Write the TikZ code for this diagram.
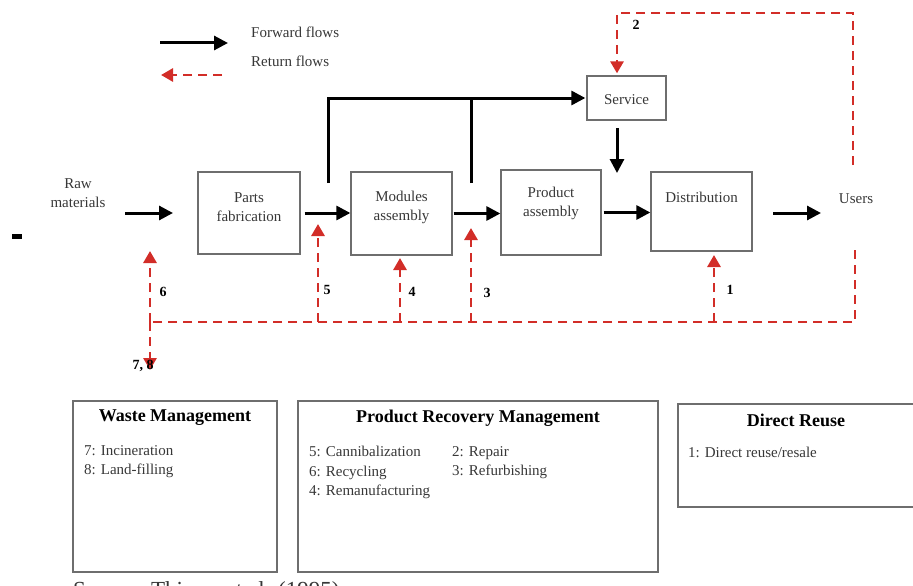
\documentclass[tikz,border=0pt]{standalone}
\usepackage{fontspec}
\setmainfont{Liberation Serif}
\usetikzlibrary{arrows.meta}
\definecolor{retred}{RGB}{210,45,40}
\definecolor{boxgray}{RGB}{110,110,110}
\definecolor{txtgray}{RGB}{55,55,55}

\begin{document}
\begin{tikzpicture}[x=1pt, y=-1pt,
    box/.style={draw=boxgray, line width=1.3pt, inner sep=0pt},
    txt/.style={text=txtgray, font=\fontsize{15}{19}\selectfont, align=center, inner sep=0pt},
    item/.style={text=txtgray, font=\fontsize{15}{19.5}\selectfont, align=left, inner sep=0pt, anchor=north west},
    num/.style={font=\bfseries\fontsize{14}{16}\selectfont, inner sep=0pt},
    head/.style={font=\bfseries\fontsize{18}{20}\selectfont, inner sep=0pt},
    fwdline/.style={line width=3pt, line join=miter},
    fwd/.style={fwdline, -{Triangle[length=14pt,width=14pt]}},
    ret/.style={retred, line width=2.8pt, dash pattern=on 9pt off 6pt, -{Triangle[length=12pt,width=13pt]}}]

        \useasboundingbox (0,0) rectangle (913,586);
        \fill (12,234) rectangle (22,239);

        \coordinate (lg1-o) at (160,43);
        \coordinate (lg1-i) at (228,43);
        \coordinate (lg2-o) at (222,75);
        \coordinate (lg2-i) at (161,75);
        \draw[fwd] (lg1-o) -- (lg1-i);
        \draw[ret] (lg2-o) -- (lg2-i);
        \node[txt, anchor=west] (fwdtxt) at (251,32) {Forward flows};
        \node[txt, anchor=west] (rettxt) at (251,61) {Return flows};

        \node[txt]                                            (raw)       at (78,193)    {Raw\\materials};
        \node[box, minimum width=102pt, minimum height=82pt]  (parts)     at (249,213)   {};
        \node[txt]                                            (parts-t)   at (249,207.5) {Parts\\fabrication};
        \node[box, minimum width=101pt, minimum height=83pt]  (modules)   at (401.5,213.5) {};
        \node[txt]                                            (modules-t) at (401.5,207.5) {Modules\\assembly};
        \node[box, minimum width=100pt, minimum height=85pt]  (product)   at (551,212.5) {};
        \node[txt]                                            (product-t) at (551,203.5) {Product\\assembly};
        \node[box, minimum width=101pt, minimum height=79pt]  (dist)      at (701.5,211.5) {};
        \node[txt]                                            (dist-t)    at (701.5,197) {Distribution};
        \node[box, minimum width=79pt, minimum height=44pt]   (service)   at (626.5,98)  {};
        \node[txt]                                            (service-t) at (626.5,100) {Service};
        \node[txt]                                            (users)     at (856,199)   {Users};

        \coordinate (raw-o)  at (125,213);
        \coordinate (raw-i)  at (173,213);
        \coordinate (dist-o) at (773,213);
        \coordinate (dist-i) at (821,213);
        \coordinate (svc-o)  at (617,128);
        \coordinate (svc-i)  at (617,173);
        \coordinate (brA)    at (328,183);
        \coordinate (brB)    at (471,183);

        \draw[fwd] (raw-o) -- (raw-i);
        \draw[fwd] ([xshift=4pt]parts.east) -- (parts.east -| modules.west);
        \draw[fwd] ([xshift=1pt]modules.east) -- (modules.east -| product.west);
        \draw[fwd] ([xshift=2pt]product.east) -- (product.east -| dist.west);
        \draw[fwd] (dist-o) -- (dist-i);
        \draw[fwd] (brA) |- ([xshift=-1pt]service.west);
        \draw[fwdline] (brB) -- (brB |- service.west);
        \draw[fwd] (svc-o) -- (svc-i);

        \coordinate (usr-t) at (853,165);
        \coordinate (top)   at (617,13);
        \coordinate (usr-b) at (855,250);
        \coordinate (bl)    at (150,322);
        \coordinate (c6)    at (150,251);
        \coordinate (c5)    at (318,224);
        \coordinate (c4)    at (400,258);
        \coordinate (c3)    at (471,228);
        \coordinate (c1)    at (714,255);
        \coordinate (c78)   at (150,370);

        \draw[ret] (usr-t) |- (top) -- ([yshift=2pt]top |- service.north);
        \draw[ret, -] (usr-b) |- (bl);
        \draw[ret] (bl) -- (c6);
        \draw[ret] (bl) -- (c78);
        \draw[ret] (c5 |- bl) -- (c5);
        \draw[ret] (c4 |- bl) -- (c4);
        \draw[ret] (c3 |- bl) -- (c3);
        \draw[ret] (c1 |- bl) -- (c1);

        \node[num] (n2)  at (636,25)  {2};
        \node[num] (n6)  at (163,292) {6};
        \node[num] (n5)  at (327,290) {5};
        \node[num] (n4)  at (412,292) {4};
        \node[num] (n3)  at (487,293) {3};
        \node[num] (n1)  at (730,290) {1};
        \node[num] (n78) at (143,366) {7, 8};

        \node[box, minimum width=204pt, minimum height=171pt] (waste)    at (175,486.5) {};
        \node[head]                                           (waste-h)  at (175,418)   {Waste Management};
        \node[item]                                           (waste-i)  at (84,445)    {7: Incineration\\8: Land-filling};
        \node[box, minimum width=360pt, minimum height=171pt] (recov)    at (478,486.5) {};
        \node[head]                                           (recov-h)  at (478,418)   {Product Recovery Management};
        \node[item]                                           (recov-i)  at (309,446)   {5: Cannibalization\\6: Recycling\\4: Remanufacturing};
        \node[item]                                           (recov-j)  at (452,446)   {2: Repair\\3: Refurbishing};
        \node[box, minimum width=242pt, minimum height=103pt] (reuse)    at (799,455.5) {};
        \node[head]                                           (reuse-h)  at (796,420)   {Direct Reuse};
        \node[item]                                           (reuse-i)  at (688,447)   {1: Direct reuse/resale};

        \node[text=txtgray, font=\fontsize{23}{25}\selectfont, anchor=base west, inner sep=0pt] (source) at (73,597) {Source: Thierry et al. (1995)};

    \end{tikzpicture}
\end{document}
